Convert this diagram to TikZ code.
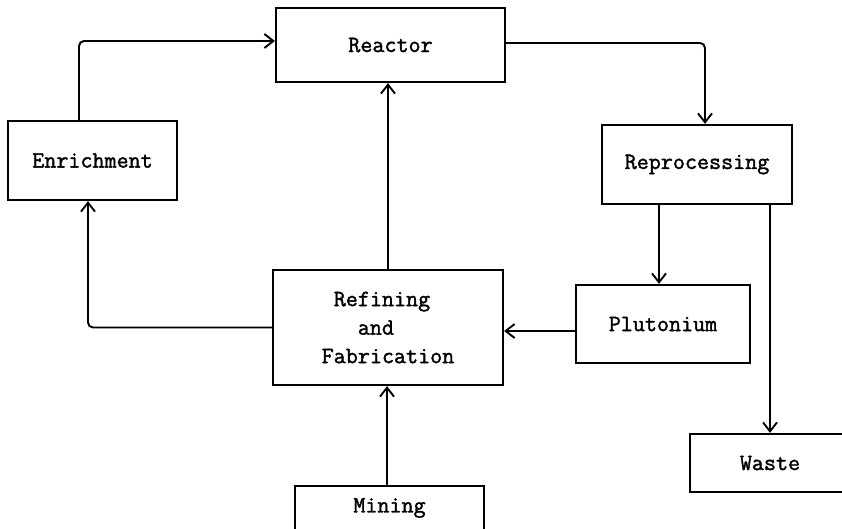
\documentclass[tikz,border=0pt]{standalone}
\usepackage{fontspec}
\newfontfamily\twfont[FakeBold=1.6]{Latin Modern Mono}
\usetikzlibrary{arrows.meta}
\begin{document}
\begin{tikzpicture}[x=1pt,y=-1pt,
  box/.style={draw, line width=2.2pt, rectangle, inner sep=0pt,
    font=\twfont\fontsize{23.4}{28.5}\selectfont},
  conn/.style={line width=1.9pt, rounded corners=5pt,
    -{Straight Barb[length=9pt,width=14pt,line width=1.9pt]}}]
\useasboundingbox (0,0) rectangle (842,529);
\fill[white] (0,0) rectangle (842,529);
\clip (0,0) rectangle (842,529);

\node[box, minimum width=229pt, minimum height=74pt] (reactor) at (390.5,45) {Reactor};
\node[box, minimum width=169pt, minimum height=79pt] (enr) at (92.5,160.5) {Enrichment};
\node[box, minimum width=190pt, minimum height=79pt] (repro) at (697,164.5) {Reprocessing};
\node[box, minimum width=230pt, minimum height=115pt, align=left] (refin) at (388,327.5)
  {\phantom{R}Refining\\\phantom{RRR}and\\Fabrication};
\node[box, minimum width=174pt, minimum height=78pt] (plut) at (663,324) {Plutonium};
\node[box, minimum width=160pt, minimum height=58pt] (waste) at (770,463) {Waste};
\node[box, minimum width=189pt, minimum height=44pt] (mining) at (389.5,508) {Mining};

\coordinate (rpP) at ([xshift=-38pt]repro.south);
\coordinate (rpW) at ([xshift=73pt]repro.south);
\coordinate (plW) at ([yshift=-7pt]plut.west);
\coordinate (mnN) at ([xshift=-2.5pt]mining.north);

\draw[conn] ([xshift=-13.5pt]enr.north) |- ([yshift=4pt]reactor.west);
\draw[conn] ([yshift=2pt]reactor.east) -| ([xshift=8pt]repro.north);
\draw[conn] (refin.north) -- (refin.north |- reactor.south);
\draw[conn] (refin.west) -| ([xshift=-4.5pt]enr.south);
\draw[conn] (rpP) -- (rpP |- plut.north);
\draw[conn] (rpW) -- (rpW |- waste.north);
\draw[conn] (plW) -- (plW -| refin.east);
\draw[conn] (mnN) -- (mnN |- refin.south);
\end{tikzpicture}
\end{document}
